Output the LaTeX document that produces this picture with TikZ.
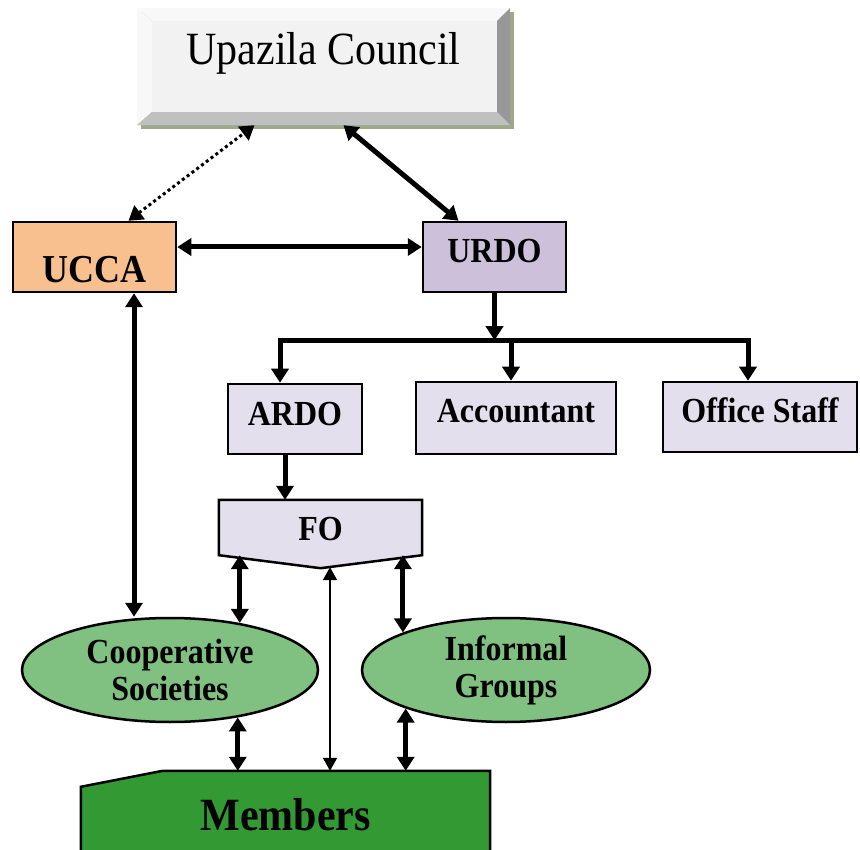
\documentclass[tikz,border=0pt]{standalone}
\usepackage{fontspec}
\setmainfont{Liberation Serif}
\usetikzlibrary{arrows.meta,shapes.geometric,backgrounds}
\definecolor{ucface}{RGB}{242,242,242}
\definecolor{uclight}{RGB}{248,248,248}
\definecolor{ucmid}{RGB}{192,192,192}
\definecolor{ucdark}{RGB}{152,152,152}
\definecolor{ucshadow}{RGB}{160,168,140}
\definecolor{uccafill}{RGB}{249,192,143}
\definecolor{urdofill}{RGB}{204,192,218}
\definecolor{lilac}{RGB}{228,223,236}
\definecolor{blobgreen}{RGB}{128,192,128}
\definecolor{memgreen}{RGB}{51,153,51}
\newcommand{\tall}[1]{\scalebox{1}[1.1]{#1}}

\begin{document}
\begin{tikzpicture}[x=1pt, y=-1pt,
        >={Triangle[length=14pt,width=17pt]},
        box/.style = {draw, line width=2.5pt, inner sep=0pt, font=\fontsize{32}{36}\selectfont\bfseries},
        blob/.style = {ellipse, draw, line width=2.5pt, fill=blobgreen, inner sep=0pt, align=center, font=\fontsize{32}{37}\selectfont\bfseries},
        link/.style = {line width=5pt},
        fine/.style = {line width=2pt, >={Triangle[length=13pt,width=14pt]}}]
        \useasboundingbox (0,0) rectangle (860,850);

        \node[minimum width=373pt, minimum height=117pt,
            label={[font=\fontsize{42}{48}\selectfont, yshift=13pt]center:\tall{Upazila Council}}] (uc) at (323.5,66.5) {};
        \node[box, fill=uccafill, minimum width=163pt, minimum height=70pt, text height=52pt, text depth=0pt,
            font=\fontsize{36}{40}\selectfont\bfseries] (ucca) at (94.5,257) {\tall{UCCA}};
        \node[box, fill=urdofill, minimum width=143pt, minimum height=70pt, text height=12pt, text depth=0pt] (urdo) at (494.5,257) {\tall{URDO}};
        \node[box, fill=lilac, minimum width=134pt, minimum height=70pt, text height=12pt, text depth=0pt] (ardo) at (295,419) {\tall{ARDO}};
        \node[box, fill=lilac, minimum width=200pt, minimum height=72pt, text height=10pt, text depth=0pt] (acct) at (516,418) {\tall{Accountant}};
        \node[box, fill=lilac, minimum width=194pt, minimum height=70pt, text height=10pt, text depth=0pt] (staff) at (760,417) {\tall{Office Staff}};
        \node[minimum width=203pt, minimum height=55pt, text height=26pt, text depth=0pt,
            font=\fontsize{32}{36}\selectfont\bfseries] (fo) at (320.5,527.5) {\tall{FO}};
        \node[blob, minimum width=296pt, minimum height=104pt] (coop) at (170,670) {\tall{Cooperative}\\\tall{Societies}};
        \node[blob, minimum width=288pt, minimum height=104pt] (infg) at (506,670) {\tall{Informal}\\\tall{Groups}};
        \node[minimum width=409pt, minimum height=99pt, text height=19pt, text depth=0pt,
            font=\fontsize{42}{48}\selectfont\bfseries] (mem) at (285.5,820.5) {\tall{Members}};

        \begin{scope}[on background layer]
            \fill[ucshadow] ([shift={(4,4)}]uc.north west) rectangle ([shift={(4,4)}]uc.south east);
            \coordinate (in-nw) at ([shift={(15,13)}]uc.north west);
            \coordinate (in-ne) at ([shift={(-13,13)}]uc.north east);
            \coordinate (in-se) at ([shift={(-13,-13)}]uc.south east);
            \coordinate (in-sw) at ([shift={(15,-13)}]uc.south west);
            \fill[ucface] (in-nw) rectangle (in-se);
            \fill[uclight] (uc.north west) -- (uc.north east) -- (in-ne) -- (in-nw) -- cycle;
            \fill[uclight] (uc.north west) -- (in-nw) -- (in-sw) -- (uc.south west) -- cycle;
            \fill[ucdark] (uc.north east) -- (uc.south east) -- (in-se) -- (in-ne) -- cycle;
            \fill[ucmid] (uc.south west) -- (in-sw) -- (in-se) -- (uc.south east) -- cycle;
            \draw[line width=2.5pt, fill=lilac] (fo.north west) -- (fo.north east) -- (fo.south east)
                -- ([yshift=-13pt]fo.south) -- (fo.south west) -- cycle;
            \clip (0,0) rectangle (860,850);
            \draw[line width=2.5pt, fill=memgreen] (mem.south west) -- ([yshift=-16pt]mem.north west)
                -- ([xshift=82pt]mem.north west) -- (mem.north east) -- (mem.south east) -- cycle;
        \end{scope}

        \draw[line width=3pt, dash pattern=on 3pt off 3pt, <->] ([xshift=34pt]ucca.north) -- ([xshift=-69pt]uc.south);
        \draw[link, <->] ([xshift=20pt]uc.south) -- ([xshift=-36pt]urdo.north);
        \draw[link, <->] ([yshift=10pt]ucca.east) -- ([yshift=10pt]urdo.west);

        \coordinate (bus) at ([yshift=-47pt]urdo.south);
        \draw[link, ->] (urdo.south) -- (bus);
        \draw[link, ->] (bus) -| ([xshift=-15pt]ardo.north);
        \draw[link, ->] (bus) -| ([xshift=-12pt]staff.north);
        \draw[link, ->] ([xshift=-5pt]acct.north |- bus) -- ([xshift=-5pt]acct.north);
        \draw[link, ->] ([xshift=-10pt]ardo.south) -- ([xshift=-10pt]ardo.south |- fo.north);

        \draw[link, <->] ([xshift=39.5pt]ucca.south) -- ([xshift=39.5pt]ucca.south |- coop.north);
        \draw[link, <->] (coop.34 |- fo.south) -- (coop.34);
        \draw[link, <->] (infg.160 |- fo.south) -- (infg.160);
        \draw[link, <->] (coop.-35) -- (coop.-35 |- mem.north);
        \draw[link, <->] (infg.201) -- (infg.201 |- mem.north);
        \draw[fine, <->] ([xshift=9.5pt,yshift=-12pt]fo.south) -- ([xshift=9.5pt]fo.south |- mem.north);
    \end{tikzpicture}
\end{document}
